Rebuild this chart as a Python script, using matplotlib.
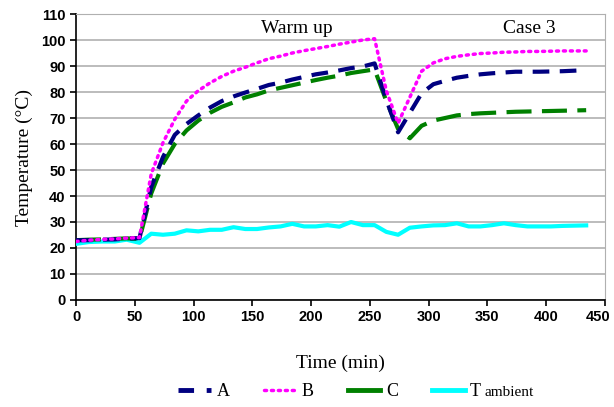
import matplotlib
matplotlib.use("Agg")
import matplotlib.pyplot as plt
import matplotlib.transforms as mtransforms
from matplotlib.lines import Line2D

# time (min) and temperatures (deg C)
time = [0, 11, 22, 33, 43, 54, 64, 74, 84, 94, 104, 114, 124, 134, 144, 154,
        164, 174, 184, 194, 204, 214, 224, 234, 244, 254, 264, 274, 284, 294,
        304, 314, 324, 334, 344, 354, 364, 374, 384, 394, 404, 414, 424, 434]

temp_a = [23.0, 23.0, 23.2, 23.3, 23.6, 23.8, 43.5, 55.0, 63.5, 67.7, 71.0,
          74.0, 76.5, 78.3, 79.8, 81.2, 82.7, 83.6, 84.8, 85.8, 86.8, 87.5,
          88.3, 89.2, 89.8, 91.0, 77.0, 64.5, 72.0, 79.5, 83.0, 84.3, 85.5,
          86.2, 86.8, 87.2, 87.5, 87.8, 87.8, 87.8, 87.9, 88.0, 88.2, 88.4]

temp_b = [22.5, 23.0, 23.3, 23.5, 23.8, 24.0, 48.5, 60.5, 69.5, 76.5, 80.5,
          83.5, 86.0, 88.0, 89.5, 91.2, 92.8, 93.8, 95.0, 95.9, 96.7, 97.5,
          98.4, 99.2, 100.0, 100.5, 80.5, 68.0, 78.0, 88.0, 91.2, 92.8, 93.7,
          94.3, 94.8, 95.0, 95.3, 95.4, 95.6, 95.6, 95.7, 95.8, 95.8, 95.8]

temp_c = [23.0, 23.2, 23.3, 23.5, 23.7, 23.5, 41.0, 52.5, 60.0, 65.2, 69.0,
          72.0, 74.3, 76.0, 77.9, 79.1, 80.6, 81.6, 82.6, 83.6, 84.6, 85.5,
          86.3, 87.3, 88.0, 88.7, 76.5, 65.8, 62.2, 67.0, 69.0, 70.0, 71.0,
          71.5, 71.8, 72.0, 72.2, 72.4, 72.5, 72.6, 72.7, 72.8, 72.9, 73.0]

temp_amb = [21.6, 22.3, 22.5, 22.5, 23.2, 22.0, 25.5, 25.1, 25.5, 26.8, 26.4,
            27.0, 27.0, 28.0, 27.3, 27.3, 27.9, 28.3, 29.3, 28.3, 28.3, 28.8,
            28.2, 30.0, 28.8, 28.8, 26.2, 25.1, 27.8, 28.3, 28.7, 28.8, 29.5,
            28.3, 28.3, 28.8, 29.5, 28.8, 28.3, 28.3, 28.3, 28.5, 28.6, 28.7]

serif = "Liberation Serif"
sans = "Liberation Sans"

navy = "#000080"
magenta = "#FF00FF"
green = "#008000"
cyan = "#00FFFF"

fig = plt.figure(figsize=(6.14, 4.07), dpi=100)
ax = fig.add_axes([0.1238, 0.2629, 0.8615, 0.7027])

ax.plot(time, temp_amb, color=cyan, lw=3, zorder=3)
ax.plot(time, temp_c, color=green, lw=3, dashes=(6, 2.5), zorder=4)
ax.plot(time, temp_a, color=navy, lw=3, dashes=(4, 2.5), zorder=5)
ax.plot(time, temp_b, color=magenta, lw=2.5, dashes=(0.6, 1.4),
        dash_capstyle="round", zorder=6)

ax.set_xlim(0, 450)
ax.set_ylim(0, 110)
ax.set_xticks(range(0, 451, 50))
ax.set_yticks(range(0, 111, 10))
ax.yaxis.grid(True, color="#B0B0B0", lw=1.2)
ax.set_axisbelow(True)

for side in ["top", "right"]:
    ax.spines[side].set_color("#B0B0B0")
for side in ["left", "bottom"]:
    ax.spines[side].set_color("black")
    ax.spines[side].set_linewidth(1.2)

ax.tick_params(direction="out", length=4, width=1.2, labelsize=10.5)
for lab in ax.get_xticklabels() + ax.get_yticklabels():
    lab.set_fontfamily(sans)
    lab.set_fontweight("bold")

# nudge the last x label inward so it stays on the canvas
last = ax.get_xticklabels()[-1]
last.set_transform(last.get_transform() +
                   mtransforms.ScaledTranslation(-5 / 72, 0, fig.dpi_scale_trans))

ax.set_xlabel("Time (min)", fontfamily=serif, fontsize=14, labelpad=22)
ax.set_ylabel("Temperature (°C)", fontfamily=serif, fontsize=14, labelpad=6)

ax.text(188, 104.5, "Warm up", fontfamily=serif, fontsize=14, ha="center", va="center")
ax.text(386, 104.5, "Case 3", fontfamily=serif, fontsize=14, ha="center", va="center")

# legend keys drawn short, so C shows as one solid stroke
handles = [
    Line2D([], [], color=navy, lw=3.5, dashes=(3.2, 2.6)),
    Line2D([], [], color=magenta, lw=2.5, dashes=(0.6, 1.4), dash_capstyle="round"),
    Line2D([], [], color=green, lw=3.5),
    Line2D([], [], color=cyan, lw=3.5),
]
labels = ["A", "B", "C", "T"]
leg = fig.legend(handles, labels, loc="center", bbox_to_anchor=(0.537, 0.037),
                 ncol=4, frameon=False, prop={"family": serif, "size": 13},
                 handlelength=1.8, handletextpad=0.3, columnspacing=1.9)

# smaller "ambient" after the T in the legend
fig.canvas.draw()
bb = leg.get_texts()[3].get_window_extent()
fx = (bb.x1 + 3) / fig.bbox.width
fy = (bb.y0 + 4) / fig.bbox.height
fig.text(fx, fy, "ambient", fontfamily=serif, fontsize=11, ha="left", va="baseline")

fig.savefig("out.png", dpi=100)
